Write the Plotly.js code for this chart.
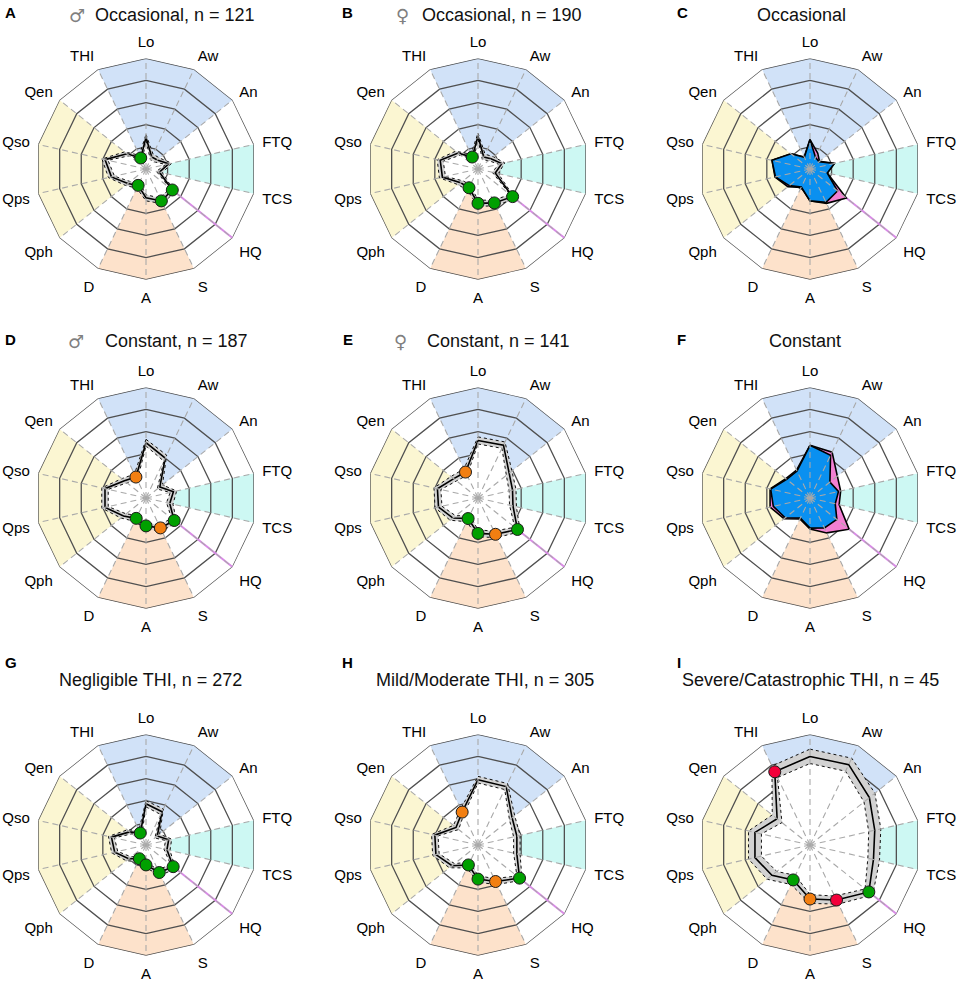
<!DOCTYPE html>
<html>
<head>
<meta charset="utf-8">
<script src="https://cdn.plot.ly/plotly-3.0.1.min.js"></script>
<style>html,body{margin:0;padding:0;background:#fff;}#chart{width:965px;height:984px;}</style>
</head>
<body>
<div id="chart"></div>
<script>
// ---------------- DATA ----------------
const cats = ['Lo','Aw','An','FTQ','TCS','HQ','S','A','D','Qph','Qps','Qso','Qen','THI'];
const ringLevels = [1, 2, 3, 4, 5];
const rMax = 5;

// background sector groups
const sectorBlue   = ['THI','Lo','Aw','An'];
const sectorCyan   = ['FTQ','TCS'];
const sectorSalmon = ['D','A','S'];
const sectorYellow = ['Qph','Qps','Qso','Qen'];
const hqLineCat    = 'HQ';

// A: male, occasional
const aMean  = [1.42,0.60,0.65,1.05,0.62,1.52,1.60,1.30,0.82,1.05,1.60,1.90,1.10,0.55];
const aLower = [1.28,0.46,0.51,0.91,0.48,1.38,1.46,1.16,0.68,0.91,1.46,1.76,0.96,0.41];
const aUpper = [1.56,0.74,0.79,1.19,0.76,1.66,1.74,1.44,0.96,1.19,1.74,2.04,1.24,0.69];
const aMarkCats = ['THI','D','S','HQ'];
const aMarkSig  = ['g','g','g','g'];

// B: female, occasional
const bMean  = [1.48,0.60,0.75,1.10,0.80,2.00,1.70,1.55,0.94,1.00,1.65,1.75,1.15,0.60];
const bLower = [1.34,0.46,0.61,0.96,0.66,1.86,1.56,1.41,0.80,0.86,1.51,1.61,1.01,0.46];
const bUpper = [1.62,0.74,0.89,1.24,0.94,2.14,1.84,1.69,1.08,1.14,1.79,1.89,1.29,0.74];
const bMarkCats = ['THI','D','A','S','HQ'];
const bMarkSig  = ['g','g','g','g','g'];

// C: occasional, male (blue) vs female (pink)
const cMale   = [1.33,0.58,0.52,1.13,0.80,1.59,1.67,1.44,0.90,1.20,1.60,1.76,1.10,0.59];
const cFemale = [1.33,0.80,0.55,1.13,0.80,2.10,1.72,1.44,0.92,1.28,1.62,1.76,1.10,0.60];

// D: male, constant
const dMean  = [2.50,2.00,0.80,1.27,1.10,1.63,1.50,1.26,1.02,1.30,1.90,1.90,1.25,1.05];
const dLower = [2.35,1.85,0.65,1.12,0.95,1.48,1.35,1.11,0.87,1.15,1.75,1.75,1.10,0.90];
const dUpper = [2.65,2.15,0.95,1.42,1.25,1.78,1.65,1.41,1.17,1.45,2.05,2.05,1.40,1.20];
const dMarkCats = ['THI','D','A','S','HQ'];
const dMarkSig  = ['o','g','g','o','g'];

// E: female, constant
const eMean  = [2.60,2.65,1.80,1.60,1.62,2.28,1.82,1.60,1.03,1.45,1.83,1.88,1.40,1.30];
const eLower = [2.44,2.49,1.64,1.44,1.46,2.12,1.66,1.44,0.87,1.29,1.67,1.72,1.24,1.14];
const eUpper = [2.76,2.81,1.96,1.76,1.78,2.44,1.98,1.76,1.19,1.61,1.99,2.04,1.56,1.46];
const eMarkCats = ['THI','D','A','S','HQ'];
const eMarkSig  = ['o','g','g','o','g'];

// F: constant, male (blue) vs female (pink)
const fMale   = [2.38,2.14,1.15,1.32,1.17,1.55,1.50,1.36,1.00,1.43,1.70,1.82,1.35,1.35];
const fFemale = [2.38,2.30,1.58,1.42,1.35,2.26,1.75,1.40,1.05,1.50,1.85,1.85,1.40,1.40];

// G: negligible THI
const gMean  = [1.86,1.67,0.65,1.05,0.97,1.57,1.38,0.90,0.69,1.00,1.45,1.60,0.95,0.60];
const gLower = [1.72,1.53,0.51,0.91,0.83,1.43,1.24,0.76,0.55,0.86,1.31,1.46,0.81,0.46];
const gUpper = [2.00,1.81,0.79,1.19,1.11,1.71,1.52,1.04,0.83,1.14,1.59,1.74,1.09,0.74];
const gMarkCats = ['THI','D','A','S','HQ'];
const gMarkSig  = ['g','g','g','g','g'];

// H: mild/moderate THI
const hMean  = [2.95,2.93,1.97,1.80,1.80,2.40,1.83,1.54,1.00,1.50,1.95,2.00,1.27,1.65];
const hLower = [2.80,2.78,1.82,1.65,1.65,2.25,1.68,1.39,0.85,1.35,1.80,1.85,1.12,1.50];
const hUpper = [3.10,3.08,2.12,1.95,1.95,2.55,1.98,1.69,1.15,1.65,2.10,2.15,1.42,1.80];
const hMarkCats = ['THI','D','A','S','HQ'];
const hMarkSig  = ['o','g','g','o','g'];

// I: severe/catastrophic THI
const iMean  = [4.00,4.03,3.43,3.00,2.94,3.40,2.76,2.44,1.75,2.20,2.55,2.55,1.90,3.67];
const iLower = [3.68,3.70,3.12,2.72,2.68,3.18,2.56,2.24,1.52,1.92,2.25,2.25,1.62,3.38];
const iUpper = [4.33,4.35,3.75,3.28,3.22,3.62,2.96,2.64,1.98,2.48,2.85,2.85,2.18,3.96];
const iMarkCats = ['THI','D','A','S','HQ'];
const iMarkSig  = ['r','g','o','r','g'];

// titles
const panelLetters = ['A','B','C','D','E','F','G','H','I'];
const panelTitles = ['Occasional, n = 121','Occasional, n = 190','Occasional',
                     'Constant, n = 187','Constant, n = 141','Constant',
                     'Negligible THI, n = 272','Mild/Moderate THI, n = 305','Severe/Catastrophic THI, n = 45'];
const panelSymbols = ['♂','♀','','♂','♀','','','',''];

// ---------------- STYLE / LAYOUT ----------------
const W = 965, H = 984;
const R = 110.7;
const colX = [146, 478, 810];
const rowY = [169, 498, 845];
const sigColors = {g:'#00a000', o:'#f27f12', r:'#f2003a'};
const sectorColors = {blue:'#d1e2f8', cyan:'#cdf8f3', salmon:'#fde2cb', yellow:'#fbf6d2'};

const bandPanels = {
  0:{mean:aMean, lower:aLower, upper:aUpper, mc:aMarkCats, ms:aMarkSig},
  1:{mean:bMean, lower:bLower, upper:bUpper, mc:bMarkCats, ms:bMarkSig},
  3:{mean:dMean, lower:dLower, upper:dUpper, mc:dMarkCats, ms:dMarkSig},
  4:{mean:eMean, lower:eLower, upper:eUpper, mc:eMarkCats, ms:eMarkSig},
  6:{mean:gMean, lower:gLower, upper:gUpper, mc:gMarkCats, ms:gMarkSig},
  7:{mean:hMean, lower:hLower, upper:hUpper, mc:hMarkCats, ms:hMarkSig},
  8:{mean:iMean, lower:iLower, upper:iUpper, mc:iMarkCats, ms:iMarkSig}
};
const comparePanels = {
  2:{male:cMale, female:cFemale},
  5:{male:fMale, female:fFemale}
};

const closeArr = a => a.concat([a[0]]);
const thetaClosed = closeArr(cats);
const base = {type:'scatterpolar', hoverinfo:'skip', showlegend:false, cliponaxis:false};

const data = [];
const layout = {
  width: W, height: H, margin:{l:0,r:0,t:0,b:0},
  paper_bgcolor:'#fff', showlegend:false, annotations:[]
};

for (let p = 0; p < 9; p++) {
  const sp = p === 0 ? 'polar' : 'polar' + (p + 1);
  const cx = colX[p % 3], cy = rowY[Math.floor(p / 3)];
  layout[sp] = {
    domain:{x:[(cx - R) / W, (cx + R) / W], y:[1 - (cy + R) / H, 1 - (cy - R) / H]},
    gridshape:'linear', bgcolor:'rgba(0,0,0,0)',
    radialaxis:{range:[0, rMax], visible:false, showgrid:false},
    angularaxis:{type:'category', categoryarray:cats, rotation:90, direction:'clockwise',
      showgrid:false, showline:false, ticks:'outside', ticklen:5, tickcolor:'rgba(0,0,0,0)',
      tickfont:{family:'Liberation Sans, Arial, sans-serif', size:15, color:'#000'}}
  };
  // sectors
  [[sectorBlue, sectorColors.blue],[sectorCyan, sectorColors.cyan],[sectorSalmon, sectorColors.salmon],[sectorYellow, sectorColors.yellow]]
  .forEach(([grp, col]) => {
    data.push(Object.assign({}, base, {subplot:sp, theta:grp.concat([grp[grp.length-1]]),
      r:grp.map(() => rMax).concat([0]), mode:'lines', fill:'toself', fillcolor:col,
      line:{width:0, color:'rgba(0,0,0,0)'}}));
  });
  // rings
  let th = [], rr = [];
  ringLevels.forEach(lv => { thetaClosed.forEach(c => { th.push(c); rr.push(lv); }); th.push(cats[0]); rr.push(null); });
  data.push(Object.assign({}, base, {subplot:sp, theta:th, r:rr, mode:'lines', line:{color:'#505050', width:1.3}}));
  // HQ line
  data.push(Object.assign({}, base, {subplot:sp, theta:[hqLineCat, hqLineCat], r:[0, rMax], mode:'lines', line:{color:'#d98be6', width:2}}));

  if (bandPanels[p]) {
    const d = bandPanels[p];
    data.push(Object.assign({}, base, {subplot:sp, theta:thetaClosed, r:closeArr(d.upper), mode:'lines', fill:'toself', fillcolor:'#d2d2d2', line:{color:'#111', width:1, dash:'dot'}}));
    data.push(Object.assign({}, base, {subplot:sp, theta:thetaClosed, r:closeArr(d.lower), mode:'lines', fill:'toself', fillcolor:'#ffffff', line:{color:'#111', width:1, dash:'dot'}}));
    data.push(Object.assign({}, base, {subplot:sp, theta:thetaClosed, r:closeArr(d.mean), mode:'lines', line:{color:'#000', width:1.6}}));
  } else {
    const d = comparePanels[p];
    data.push(Object.assign({}, base, {subplot:sp, theta:thetaClosed, r:closeArr(d.female), mode:'lines', fill:'toself', fillcolor:'#f27fd2', line:{color:'#000', width:1.6}}));
    data.push(Object.assign({}, base, {subplot:sp, theta:thetaClosed, r:closeArr(d.male), mode:'lines', fill:'toself', fillcolor:'#0a90f0', line:{color:'#000', width:1.6}}));
  }
  // spokes
  th = []; rr = [];
  cats.forEach(c => { th.push(c, c, c); rr.push(0, rMax, null); });
  data.push(Object.assign({}, base, {subplot:sp, theta:th, r:rr, mode:'lines', line:{color:'#a9a9a9', width:1.1, dash:'6px,4px'}}));
  // markers
  if (bandPanels[p]) {
    const d = bandPanels[p];
    data.push(Object.assign({}, base, {subplot:sp, theta:d.mc, r:d.mc.map(c => d.mean[cats.indexOf(c)]),
      mode:'markers', marker:{size:12, color:d.ms.map(s => sigColors[s]), line:{color:'#1a1a1a', width:1}}}));
  }
}

// annotations
const font = 'Liberation Sans, Arial, sans-serif';
const letterPos = [[3,12],[340,12],[675,12],[3,340],[341,340],[675,340],[3,662],[340,662],[675,662]];
const symbolPos = [[67,15],[394,15],null,[66,341],[392,341],null,null,null,null];
const titleLeft = [93,420,null,103,425,null,null,null,null];
const titleCenter = [null,null,801,null,null,805,150,485,810];
const titleY = [15,15,15,341,341,341,680,680,680];
const ann = layout.annotations;
for (let p = 0; p < 9; p++) {
  ann.push({xref:'paper', yref:'paper', x:letterPos[p][0]/W, y:1-letterPos[p][1]/H, xanchor:'left', yanchor:'middle',
    text:'<b>' + panelLetters[p] + '</b>', showarrow:false, font:{family:font, size:15, color:'#000'}});
  if (panelSymbols[p]) {
    ann.push({xref:'paper', yref:'paper', x:symbolPos[p][0]/W, y:1-symbolPos[p][1]/H, xanchor:'left', yanchor:'middle',
      text:panelSymbols[p], showarrow:false, font:{family:'DejaVu Sans', size:18, color:'#808080'}});
  }
  if (titleLeft[p] !== null) {
    ann.push({xref:'paper', yref:'paper', x:titleLeft[p]/W, y:1-titleY[p]/H, xanchor:'left', yanchor:'middle',
      text:panelTitles[p], showarrow:false, font:{family:font, size:18, color:'#111'}});
  } else {
    ann.push({xref:'paper', yref:'paper', x:titleCenter[p]/W, y:1-titleY[p]/H, xanchor:'center', yanchor:'middle',
      text:panelTitles[p], showarrow:false, font:{family:font, size:18, color:'#111'}});
  }
}

Plotly.newPlot('chart', data, layout, {staticPlot:true, displayModeBar:false});
</script>
</body>
</html>
